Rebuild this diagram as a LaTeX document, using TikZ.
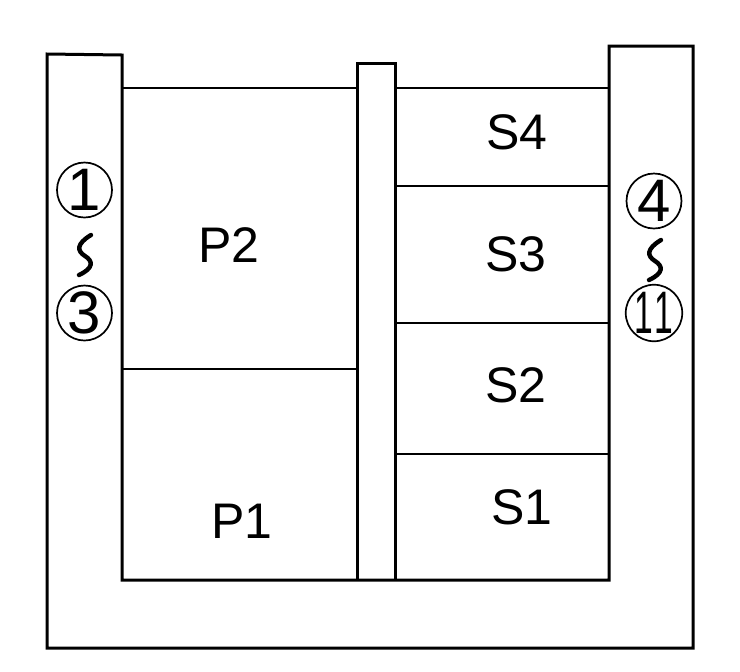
\documentclass[tikz,border=0pt]{standalone}
\usepackage{fontspec}
\setmainfont{Liberation Sans}
\begin{document}
\begin{tikzpicture}[x=0.5pt,y=-0.5pt,
  wall/.style={line width=1.5pt, line join=miter},
  part/.style={line width=1.1pt},
  lbl/.style={font=\fontsize{25}{25}\selectfont, inner sep=0pt},
  circnum/.style={circle, draw, line width=0.85pt, minimum size=27.5pt, inner sep=0pt, font=\fontsize{30}{30}\selectfont},
  wave/.style={line width=2.2pt, line cap=round}]
\useasboundingbox (0,0) rectangle (740,671);
% outer U-shaped wall
\draw[wall] (122,55) -- (47,54) -- (47,648) -- (693,648) -- (693,46) -- (609,46) -- (609,580) -- (122,580) -- cycle;
% middle pillar
\draw[wall] (357,580) -- (357,63) -- (395,63) -- (395,580);
% coordinates for partition lines
\coordinate (l88) at (122,88);  \coordinate (m88a) at (357,88);
\coordinate (m88b) at (395,88); \coordinate (r88) at (609,88);
\coordinate (l369) at (122,369); \coordinate (m369) at (357,369);
\coordinate (m186) at (395,186); \coordinate (r186) at (609,186);
\coordinate (m323) at (395,323); \coordinate (r323) at (609,323);
\coordinate (m454) at (395,454); \coordinate (r454) at (609,454);
\draw[part] (l88) -- (m88a);
\draw[part] (m88b) -- (r88);
\draw[part] (l369) -- (m369);
\draw[part] (m186) -- (r186);
\draw[part] (m323) -- (r323);
\draw[part] (m454) -- (r454);
% labels
\node[lbl] (p2) at (229,245) {P2};
\node[lbl] (p1) at (242,521) {P1};
\node[lbl] (s4) at (517,132) {S4};
\node[lbl] (s3) at (516,254) {S3};
\node[lbl] (s2) at (516,385) {S2};
\node[lbl] (s1) at (522,507) {S1};
% circled numbers
\node[circnum] (c1) at (84.5,190) {1};
\node[circnum] (c3) at (84.5,313) {3};
\node[circnum] (c4) at (654,201) {4};
\node[circnum] (c11) at (654,313) {\scalebox{0.56}[1]{1\hspace{1pt}1}};
% wave dashes
\begin{scope}[shift={(85,255)}]
  \draw[wave] (6,-20) .. controls (-9,-11) and (-8,-4) .. (0,1) .. controls (8,6) and (9,13) .. (-6,20);
\end{scope}
\begin{scope}[shift={(655,260)}]
  \draw[wave] (6,-20) .. controls (-9,-11) and (-8,-4) .. (0,1) .. controls (8,6) and (9,13) .. (-6,20);
\end{scope}
\end{tikzpicture}
\end{document}
